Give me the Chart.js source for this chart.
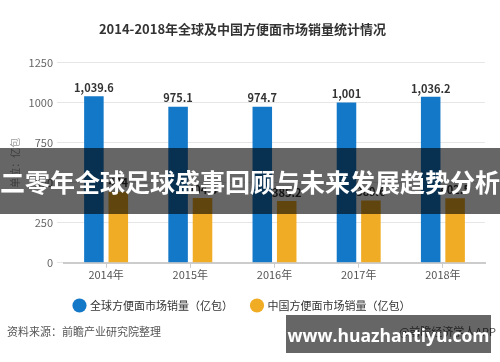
<!DOCTYPE html>
<html lang="zh">
<head>
    <meta charset="UTF-8">
    <title>2014-2018年全球及中国方便面市场销量统计情况</title>
    <script src="https://cdn.jsdelivr.net/npm/chart.js"></script>
    <style>
        body { margin: 0; background: #fff; }
        #wrap { position: relative; width: 500px; height: 362px; overflow: hidden; }
        #source { position: absolute; left: 7px; top: 323px; font: 11px "Noto Sans CJK SC"; color: #555; }
        #app { position: absolute; right: 4px; top: 323px; font: 11px "Noto Sans CJK SC"; color: #555; }
        #banner { position: absolute; left: 0; top: 148px; width: 500px; height: 66px; background: rgba(0,0,0,0.6);
                  color: #fff; font: bold 25px "Noto Sans CJK SC"; line-height: 66px; text-align: center; white-space: nowrap; }
        #mark { position: absolute; left: 286px; top: 315px; width: 205px; height: 38px; background: rgba(0,0,0,0.6);
                color: #fff; font: bold 17.5px "Open Sans"; line-height: 40px; text-align: center; white-space: nowrap; }
    </style>
</head>
<body>
<div id="wrap">
    <canvas id="chart" width="500" height="362"></canvas>
    <div id="source">资料来源：前瞻产业研究院整理</div>
    <div id="app">@前瞻经济学人APP</div>
    <div id="banner">二零年全球足球盛事回顾与未来发展趋势分析</div>
    <div id="mark">www.huazhantiyu.com</div>
</div>
<script>
    const years = ['2014年', '2015年', '2016年', '2017年', '2018年'];
    const globalSales = [1039.6, 975.1, 974.7, 1001, 1036.2];
    const chinaSales = [444.0, 404.3, 385.2, 389.6, 402.5];
    const yTicks = [0, 250, 500, 750, 1000, 1250];

    const cjk = '"Noto Sans CJK SC", sans-serif';

    // value labels above each bar
    const barLabels = {
        id: 'barLabels',
        afterDatasetsDraw(chart) {
            const ctx = chart.ctx;
            ctx.save();
            ctx.font = 'bold 11px ' + cjk;
            ctx.fillStyle = '#333';
            ctx.textAlign = 'center';
            ctx.textBaseline = 'bottom';
            chart.data.datasets.forEach((ds, i) => {
                chart.getDatasetMeta(i).data.forEach((bar, j) => {
                    ctx.fillText(ds.data[j].toLocaleString('en-US'), bar.x, bar.y - 3);
                });
            });
            ctx.restore();
        }
    };

    new Chart(document.getElementById('chart'), {
        type: 'bar',
        data: {
            labels: years,
            datasets: [{
                label: '全球方便面市场销量（亿包）',
                data: globalSales,
                backgroundColor: '#1478c8',
                categoryPercentage: 0.58,
                barPercentage: 0.8
            }, {
                label: '中国方便面市场销量（亿包）',
                data: chinaSales,
                backgroundColor: '#f0ac24',
                categoryPercentage: 0.58,
                barPercentage: 0.8
            }]
        },
        options: {
            responsive: false,
            animation: false,
            layout: { padding: { left: 0, right: 15, top: 0, bottom: 41 } },
            plugins: {
                title: {
                    display: true,
                    text: '2014-2018年全球及中国方便面市场销量统计情况',
                    color: '#333',
                    font: { family: cjk, size: 13, weight: 'bold' },
                    padding: { top: 21, bottom: 26 }
                },
                legend: {
                    position: 'bottom',
                    labels: {
                        usePointStyle: true,
                        pointStyle: 'circle',
                        boxWidth: 10,
                        boxHeight: 10,
                        padding: 19,
                        color: '#333',
                        font: { family: cjk, size: 11 }
                    }
                },
                tooltip: { enabled: false }
            },
            scales: {
                x: {
                    grid: { display: true, drawOnChartArea: false, offset: false, tickLength: 5, color: '#ccc' },
                    border: { color: '#ccc', width: 2 },
                    ticks: { color: '#555', font: { family: cjk, size: 11 }, padding: 0 }
                },
                y: {
                    min: 0,
                    max: 1250,
                    afterBuildTicks: s => { s.ticks = yTicks.map(v => ({ value: v })); },
                    afterFit: s => { s.width = 64; },
                    grid: { color: '#e6e6e6', tickLength: 7 },
                    border: { display: false },
                    ticks: { color: '#666', font: { family: cjk, size: 11 }, padding: 4, callback: v => String(v) },
                    title: {
                        display: true,
                        text: '单位：亿包',
                        color: '#999',
                        font: { family: cjk, size: 10 },
                        padding: { top: 9, bottom: 0 }
                    }
                }
            }
        },
        plugins: [barLabels]
    });
</script>
</body>
</html>
